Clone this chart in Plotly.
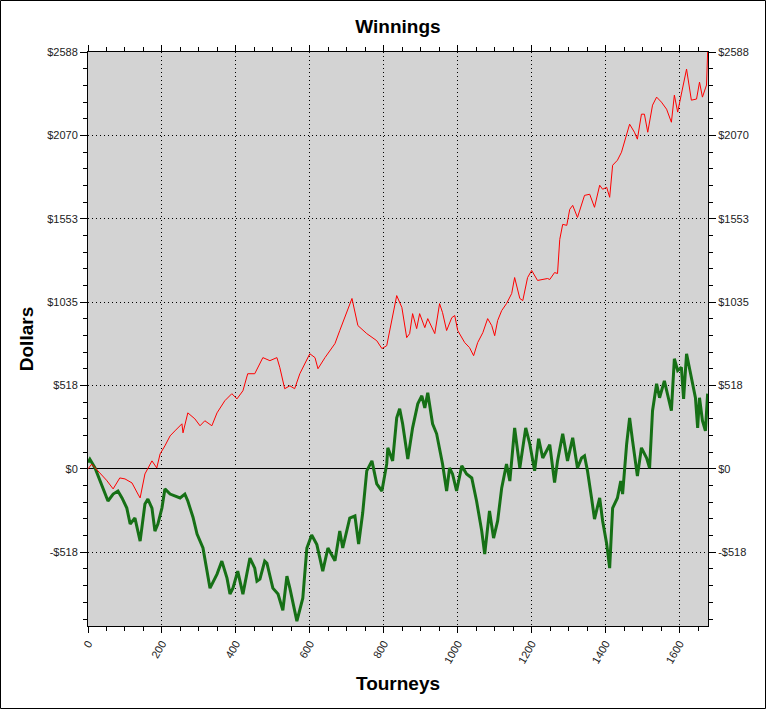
import plotly.graph_objects as go

# Données (tournoi, gains en $)
tournois_rouge = [0, 10, 30, 50, 68, 86, 100, 119, 135, 141, 154, 173, 186, 195, 208, 222, 235, 254, 257,
                  270, 289, 303, 316, 335, 349, 370, 389, 403, 419, 432, 451, 473, 492, 511, 519, 532, 546,
                  559, 573, 586, 600, 614, 622, 641, 654, 668, 681, 698, 714, 730, 754, 781, 795, 808, 816,
                  835, 849, 862, 870, 878, 889, 897, 911, 919, 938, 951, 959, 970, 984, 992, 1000, 1019,
                  1032, 1043, 1054, 1068, 1081, 1092, 1100, 1108, 1119, 1132, 1146, 1154, 1168, 1176, 1189,
                  1200, 1216, 1243, 1249, 1262, 1270, 1276, 1284, 1295, 1303, 1311, 1324, 1343, 1357, 1370,
                  1384, 1392, 1403, 1411, 1419, 1432, 1443, 1451, 1465, 1478, 1486, 1497, 1505, 1514, 1527,
                  1538, 1551, 1565, 1578, 1586, 1595, 1605, 1619, 1632, 1646, 1654, 1662, 1673, 1676]
gains_rouge = [0, 30, -20, -70, -124, -56, -62, -87, -156, -180, -31, 50, 6, 93, 143, 205, 236, 280, 224,
               348, 311, 268, 299, 268, 348, 423, 467, 435, 485, 591, 591, 691, 672, 691, 628, 498, 516,
               498, 591, 653, 715, 691, 622, 691, 734, 778, 859, 960, 1058, 890, 840, 796, 747, 765, 859,
               1076, 1002, 815, 840, 964, 871, 964, 877, 933, 840, 1026, 970, 859, 939, 952, 859, 784,
               753, 703, 784, 846, 933, 890, 827, 921, 983, 1026, 1089, 1188, 1058, 1045, 1188,
               1232, 1170, 1182, 1176, 1219, 1213, 1425, 1518, 1512, 1611, 1636, 1561, 1698, 1705, 1624,
               1761, 1736, 1748, 1686, 1885, 1916, 1966, 2028, 2140, 2090, 2047, 2202, 2202, 2090, 2258,
               2308, 2277, 2233, 2152, 2320, 2215, 2327, 2482, 2289, 2296, 2401, 2308, 2383, 2588]

tournois_vert = [0, 5, 19, 32, 46, 54, 68, 81, 92, 105, 114, 127, 141, 154, 162, 173, 181, 189, 200, 208,
                 222, 235, 249, 262, 270, 284, 295, 311, 330, 349, 362, 376, 384, 392, 405, 419, 438, 451,
                 457, 465, 478, 484, 500, 514, 527, 538, 546, 565, 581, 592, 605, 619, 635, 649, 668, 681,
                 689, 708, 722, 732, 743, 754, 768, 781, 795, 808, 811, 824, 835, 843, 851, 865, 878, 892,
                 903, 911, 919, 932, 943, 959, 970, 978, 986, 997, 1011, 1024, 1038, 1051, 1065, 1073,
                 1086, 1097, 1108, 1119, 1132, 1141, 1154, 1168, 1184, 1195, 1208, 1219, 1230, 1249, 1262,
                 1270, 1284, 1297, 1311, 1324, 1335, 1343, 1351, 1362, 1370, 1384, 1392, 1403, 1411, 1419,
                 1432, 1441, 1446, 1457, 1465, 1473, 1486, 1497, 1511, 1519, 1527, 1538, 1546, 1559, 1568,
                 1578, 1586, 1595, 1605, 1611, 1619, 1627, 1635, 1643, 1649, 1654, 1662, 1670, 1676]
gains_vert = [40, 60, 6, -75, -156, -199, -156, -137, -180, -243, -342, -305, -448, -218, -187, -243, -386,
              -342, -243, -124, -156, -168, -180, -156, -199, -300, -404, -491, -740, -653, -572, -678,
              -777, -740, -634, -777, -553, -616, -697, -684, -572, -585, -740, -777, -877, -666, -740,
              -945, -802, -491, -410, -470, -634, -491, -570, -386, -491, -305, -292, -466, -274, -12, 50,
              -93, -137, 31, 131, 50, 317, 373, 280, 62, 255, 404, 454, 379, 473, 280, 218, 31, -137, 6,
              -31, -137, 19, -31, -56, -199, -386, -529, -261, -429, -323, -118, 31, -75, 255, 6, 255,
              155, -12, 187, 68, 150, -85, 50, 218, 50, 193, 6, 68, 81, -12, -180, -311, -180, -323, -466,
              -616, -243, -180, -75, -156, 155, 317, 174, -44, 131, 68, 6, 361, 529, 442, 547, 467, 361,
              684, 610, 630, 435, 715, 628, 547, 442, 255, 442, 299, 236, 467]

# Graduations
valeurs_y = [2588, 2070.4, 1552.8, 1035.2, 517.6, 0, -517.6]
etiquettes_y = ["$2588", "$2070", "$1553", "$1035", "$518", "$0", "-$518"]
valeurs_x = [0, 200, 400, 600, 800, 1000, 1200, 1400, 1600]

plage_x = [0, 1677]
plage_y = [-975, 2588]

fig = go.Figure()

fig.add_trace(go.Scatter(x=tournois_vert, y=gains_vert, mode="lines",
                         line=dict(color="rgb(22,112,22)", width=3), hoverinfo="skip"))
fig.add_trace(go.Scatter(x=tournois_rouge, y=gains_rouge, mode="lines",
                         line=dict(color="rgb(255,0,0)", width=1), hoverinfo="skip"))
# trace invisible pour afficher l'axe de droite
fig.add_trace(go.Scatter(x=tournois_rouge, y=gains_rouge, mode="lines", yaxis="y2",
                         line=dict(color="rgba(0,0,0,0)", width=0), hoverinfo="skip"))

police = "Liberation Sans, Arial, sans-serif"
pointille = "1px,3px"
axe_y = dict(
    range=plage_y, tickvals=valeurs_y, ticktext=etiquettes_y,
    ticks="outside", ticklen=7, tickcolor="black", tickwidth=1,
    minor=dict(dtick=103.52, tick0=0, ticks="outside", ticklen=4, tickcolor="black"),
    showline=True, linecolor="black", linewidth=1, automargin=False,
    tickfont=dict(family=police, size=11, color="#222"),
)

fig.update_layout(
    width=766, height=709,
    margin=dict(l=88, r=58, t=52, b=83, autoexpand=False),
    paper_bgcolor="white", plot_bgcolor="#D3D3D3",
    showlegend=False,
    title=dict(text="<b>Winnings</b>", x=0.5, xref="paper", y=0.963, yanchor="middle",
               font=dict(family=police, size=19, color="black")),
    xaxis=dict(
        range=plage_x, tickvals=valeurs_x, tickangle=-60,
        ticks="outside", ticklen=6, tickcolor="black",
        minor=dict(dtick=50, tick0=0, ticks="outside", ticklen=4, tickcolor="black"),
        showline=True, linecolor="black", linewidth=1, mirror="ticks", automargin=False,
        showgrid=True, gridcolor="black", griddash=pointille, gridwidth=1,
        zeroline=False,
        tickfont=dict(family=police, size=11, color="#222"),
        title=dict(text="<b>Tourneys</b>", font=dict(family=police, size=19, color="black"), standoff=12),
    ),
    yaxis=dict(
        **axe_y,
        showgrid=True, gridcolor="black", griddash=pointille, gridwidth=1,
        zeroline=True, zerolinecolor="black", zerolinewidth=1,
        title=dict(text="<b>Dollars</b>", font=dict(family=police, size=19, color="black"), standoff=8),
    ),
    yaxis2=dict(**axe_y, overlaying="y", side="right", showgrid=False, zeroline=False),
)

# Cadre autour de la figure
fig.add_shape(type="rect", xref="paper", yref="paper",
              x0=-87.5 / 620, x1=1 + 57.5 / 620, y0=-82.5 / 574, y1=1 + 51.5 / 574,
              line=dict(color="black", width=1), layer="above")

# marge de la page à zéro pour que la figure commence au coin
fig.write_html("out.html", config={"displayModeBar": False},
               post_script="document.body.style.margin='0';")
